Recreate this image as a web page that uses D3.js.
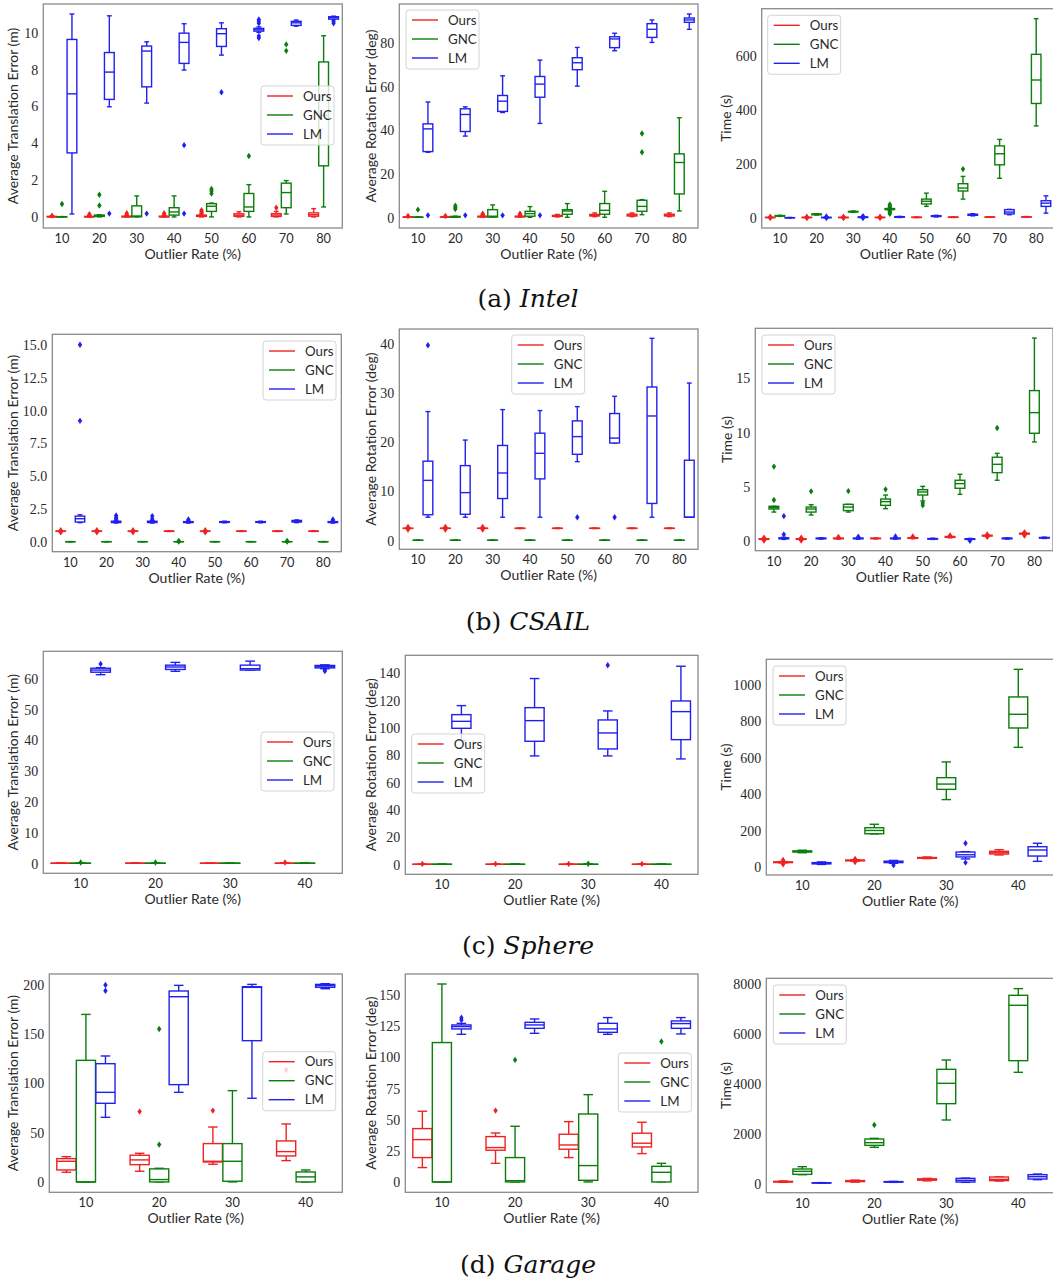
<!DOCTYPE html>
<html>
<head>
<meta charset="utf-8">
<script src="https://cdn.jsdelivr.net/npm/d3@7"></script>
<style>
  body { margin: 0; background: #fff; }
  svg { display: block; }
  .lab { font-family: Lato, "Open Sans", sans-serif; font-size: 13.3px; fill: #2a2a2a; }
  .axlab { font-family: Lato, "Open Sans", sans-serif; font-size: 14px; fill: #2a2a2a; }
  .cap { font-family: "DejaVu Serif", serif; font-size: 25px; fill: #111; }
</style>
</head>
<body>
<script>
const methods = ["Ours", "GNC", "LM"];
const colors = { Ours: "#ee2222", GNC: "#0b7d0b", LM: "#2121ee" };
const ratesLong = [10, 20, 30, 40, 50, 60, 70, 80];
const ratesShort = [10, 20, 30, 40];

// box = [lower whisker, q1, median, q3, upper whisker, [fliers]]
const intelTrans = {
  Ours: [[0,0,0.01,0.03,0.05,[0.07]], [0,0,0.01,0.03,0.06,[0.1,0.15]], [0,0,0.02,0.04,0.07,[0.12,0.2]], [0,0,0.02,0.04,0.07,[0.12,0.2]],
         [0,0.03,0.06,0.1,0.16,[0.22,0.3,0.36]], [0,0.03,0.09,0.17,0.28,[]], [0,0.03,0.1,0.18,0.3,[0.5]], [0,0.04,0.12,0.22,0.45,[]]],
  GNC: [[0,0,0,0.01,0.02,[0.7]], [0,0.03,0.06,0.1,0.12,[0.62,1.2]], [0,0.01,0.05,0.6,1.14,[]], [0,0.1,0.27,0.5,1.14,[]],
        [0,0.3,0.58,0.72,0.75,[1.27,1.4,1.52]], [0,0.3,0.54,1.27,1.75,[3.3]], [0.16,0.5,1.32,1.83,1.97,[9.0,9.35]], [0.54,2.77,5.5,8.4,9.82,[]]],
  LM: [[0.16,3.47,6.67,9.62,11.0,[]], [5.97,6.37,7.85,8.91,10.9,[0.18]], [6.17,7.05,8.99,9.26,9.49,[0.18]], [7.96,8.32,9.46,9.96,10.47,[3.89,0.18]],
       [8.77,9.24,9.93,10.2,10.52,[6.76]], [10.0,10.07,10.14,10.22,10.3,[9.7,9.8,10.5,10.6,10.7]], [10.34,10.38,10.52,10.6,10.67,[]], [10.7,10.72,10.8,10.85,10.88,[10.5,10.6]]]
};
const intelRot = {
  Ours: [[0,0.05,0.1,0.2,0.3,[0.6]], [0,0.05,0.1,0.2,0.3,[0.6]], [0.1,0.2,0.3,0.5,0.7,[1.0,1.3,1.6]], [0.1,0.2,0.3,0.5,0.7,[1.0,1.3,1.6]],
         [0.2,0.4,0.6,0.9,1.3,[]], [0.3,0.6,0.9,1.3,2.0,[]], [0.3,0.6,1.0,1.4,2.0,[]], [0.3,0.6,1.0,1.4,2.0,[]]],
  GNC: [[0,0,0.05,0.1,0.2,[3.5]], [0,0.1,0.2,0.4,0.5,[3.8,4.5,5.3]], [0,0.1,0.5,3.5,5.7,[]], [0,0.5,1.7,2.75,4.9,[]],
        [0,1.4,2.9,3.5,6.3,[]], [0,1.4,3.2,6.3,11.9,[]], [1.2,2.75,5.0,7.8,8.1,[29.8,38.4]], [2.9,10.7,25.1,29.05,45.6,[]]],
  LM: [[29.8,30.1,40.5,42.8,52.8,[0.9]], [37.2,39.3,47.1,49.7,50.6,[0.9]], [48,48.5,53.2,55.8,64.8,[0.9]], [43,55,61,64.5,72,[0.9]],
       [60.1,67.6,70.8,73.1,77.8,[]], [76.3,77.7,81.7,82.7,84.3,[]], [80.1,82.4,86.1,88.7,90.4,[]], [86.1,89.3,90.4,91.3,93.1,[]]]
};
const intelTime = {
  Ours: [[1,1.5,2,2.5,3,[0.2,4.5]], [1,1.5,2,2.5,3,[0.2,4.5]], [1,1.5,2,2.5,3,[0.2,4.5]], [1,1.5,2,2.5,3,[0.2,4.5]],
         [1.5,2,2.5,3,3.5,[]], [2,2.5,3,3.5,4,[]], [2.5,3,3.5,4,4.5,[]], [3,3.5,4,4.5,5.5,[]]],
  GNC: [[6,7,8,9,10,[]], [11,12,13.5,15,16,[]], [21,22.5,23.5,24.5,26,[]], [29,31,33,35,37,[16,20,24,41,45,50]],
        [43,52,62,70,92,[]], [70,100,111,127,154,[181]], [147,197,238,267,291,[]], [341,424,511,606,738,[]]],
  LM: [[0.3,0.6,1,1.4,2,[]], [0.5,1,1.8,2.5,3.5,[0.1,5.5]], [1,2,3,4,5,[0.2,7]], [2,3,4,5,6,[]],
       [4,5.5,7,8.5,10,[]], [8,10,12,14,16,[]], [12,15,22,31,32,[]], [18,43,55,64,82,[]]]
};

const csailTrans = {
  Ours: [[0.78,0.79,0.8,0.81,0.82,[0.72,0.88]], [0.78,0.79,0.8,0.81,0.82,[0.72,0.88]], [0.78,0.79,0.8,0.81,0.82,[0.72,0.88]], [0.78,0.79,0.8,0.81,0.82,[]],
         [0.78,0.79,0.8,0.81,0.82,[0.72,0.88]], [0.78,0.79,0.8,0.81,0.82,[]], [0.78,0.79,0.8,0.81,0.82,[]], [0.78,0.79,0.8,0.81,0.82,[]]],
  GNC: [[0,0,0,0.005,0.01,[]], [0,0,0,0.005,0.01,[]], [0,0,0,0.005,0.01,[]], [0,0,0,0.005,0.01,[0.02,0.06]],
        [0,0,0,0.005,0.01,[]], [0,0,0,0.005,0.01,[]], [0,0,0,0.005,0.01,[0.02,0.06]], [0,0,0,0.005,0.01,[]]],
  LM: [[1.45,1.5,1.75,1.95,2.05,[9.2,15.0]], [1.42,1.46,1.5,1.56,1.62,[1.72,1.85,2.0]], [1.42,1.46,1.5,1.56,1.62,[1.75,1.95]], [1.42,1.46,1.49,1.53,1.56,[1.62,1.7]],
       [1.44,1.47,1.5,1.53,1.56,[]], [1.44,1.47,1.5,1.53,1.56,[]], [1.45,1.5,1.55,1.62,1.66,[]], [1.42,1.46,1.49,1.53,1.56,[1.62,1.7]]]
};
const csailRot = {
  Ours: [[2.4,2.42,2.44,2.46,2.5,[2.2,2.7]], [2.4,2.42,2.44,2.46,2.5,[2.2,2.7]], [2.4,2.42,2.44,2.46,2.5,[2.2,2.7]], [2.4,2.42,2.44,2.46,2.5,[]],
         [2.4,2.42,2.44,2.46,2.5,[]], [2.4,2.42,2.44,2.46,2.5,[]], [2.4,2.42,2.44,2.46,2.5,[]], [2.4,2.42,2.44,2.46,2.5,[]]],
  GNC: [[0,0,0,0.02,0.05,[]], [0,0,0,0.02,0.05,[]], [0,0,0,0.02,0.05,[]], [0,0,0,0.02,0.05,[]],
        [0,0,0,0.02,0.05,[]], [0,0,0,0.02,0.05,[]], [0,0,0,0.02,0.05,[]], [0,0,0,0.02,0.05,[]]],
  LM: [[4.7,5.2,12.2,16.1,26.2,[39.7]], [4.7,5.3,9.7,15.2,20.4,[]], [4.7,8.5,13.7,19.3,26.6,[]], [4.7,12.5,17.7,21.8,26.4,[]],
       [16,17.5,21.1,24.3,27.2,[4.7]], [19.8,19.8,20.8,25.8,29.3,[4.7]], [4.7,7.5,25.3,31.2,41.1,[]], [4.7,4.7,4.7,16.3,32,[]]]
};
const csailTime = {
  Ours: [[0.12,0.15,0.18,0.21,0.24,[0.05,0.3]], [0.12,0.15,0.18,0.21,0.24,[0.05,0.3]], [0.18,0.21,0.24,0.27,0.3,[0.38]], [0.2,0.22,0.24,0.26,0.28,[]],
         [0.22,0.25,0.28,0.31,0.34,[0.42]], [0.3,0.34,0.38,0.42,0.45,[0.52]], [0.42,0.46,0.5,0.53,0.56,[0.38,0.6]], [0.6,0.64,0.68,0.72,0.75,[0.5,0.8]]],
  GNC: [[2.67,2.95,3.07,3.2,3.2,[3.78,6.86]], [2.4,2.67,2.95,3.13,3.35,[4.58]], [2.67,2.8,3.13,3.38,3.38,[4.6]], [2.98,3.29,3.63,3.87,4.24,[4.76]],
        [3.69,4.24,4.52,4.73,5.04,[3.3,3.5]], [4.3,4.86,5.29,5.6,6.15,[]], [5.6,6.3,7.07,7.72,8.08,[10.42]], [9.13,9.93,11.83,13.86,18.7,[]]],
  LM: [[0.15,0.2,0.25,0.3,0.35,[0.61,2.3]], [0.18,0.21,0.24,0.27,0.3,[]], [0.18,0.21,0.24,0.27,0.3,[0.4]], [0.18,0.21,0.24,0.27,0.3,[0.42]],
       [0.15,0.18,0.2,0.23,0.26,[]], [0.12,0.15,0.18,0.21,0.24,[0.02]], [0.18,0.21,0.24,0.27,0.3,[]], [0.24,0.27,0.3,0.33,0.36,[]]]
};

const sphereTrans = {
  Ours: [[0,0,0,0.05,0.1,[]], [0,0,0,0.05,0.1,[]], [0,0,0,0.05,0.1,[]], [0,0,0,0.05,0.1,[0.25]]],
  GNC: [[0,0,0,0.05,0.1,[0.25]], [0,0,0,0.05,0.1,[0.25]], [0,0,0,0.05,0.1,[]], [0,0,0,0.05,0.1,[]]],
  LM: [[61.3,62.1,62.8,63.4,63.6,[64.8]], [62.4,63.0,63.8,64.4,65.3,[]], [62.8,62.8,63.25,64.4,65.7,[]], [63.25,63.5,63.9,64.3,64.5,[62.5,62.9]]]
};
const sphereRot = {
  Ours: [[0,0,0,0.1,0.2,[0.3]], [0,0,0,0.1,0.2,[0.3]], [0,0,0,0.1,0.2,[0.3]], [0,0,0,0.1,0.2,[0.3]]],
  GNC: [[0,0,0,0.1,0.2,[]], [0,0,0,0.1,0.2,[]], [0,0,0,0.1,0.2,[0.4]], [0,0,0,0.1,0.2,[]]],
  LM: [[90.5,99.5,104.6,109.5,116.1,[]], [79.3,90,105.1,114.6,135.9,[]], [79.3,84.4,96.1,105.6,112.2,[145.6]], [77.1,91.2,111.7,119.5,144.9,[]]]
};
const sphereTime = {
  Ours: [[22,24,26,28,30,[15,38]], [32,34,36,38,40,[27,44]], [46,48,50,52,55,[]], [66,71,78,86,95,[]]],
  GNC: [[78,82,85,88,92,[]], [181,182,200,215,234,[]], [369,425,454,489,575,[]], [655,761,836,931,1082,[]]],
  LM: [[14,17,20,24,28,[]], [20,24,28,32,36,[10]], [44,55,67,82,84,[24,130]], [31,60,93,111,130,[]]]
};

const garageTrans = {
  Ours: [[9.8,12.1,20.9,23.6,25.6,[]], [10.8,17.5,22.3,27,29,[71.2]], [17.9,20.2,20.9,38.8,55.6,[72.2]], [21.6,26.3,30.7,41.5,58.7,[113.3]]],
  GNC: [[0,0,0,123.1,169.6,[]], [0,0,2.4,13.2,13.8,[37.8,154.8]], [0,0.7,20.9,38.8,92.4,[]], [0,0,5.1,10.1,12.1,[]]],
  LM: [[65.4,79.6,90.7,119.7,127.5,[193.6,199.3]], [90.7,98.5,187.5,193.3,199,[]], [84.7,143,197,197.6,200,[]], [195.6,197,198.7,200,200.7,[]]]
};
const garageRot = {
  Ours: [[11.5,19.5,33.9,42.7,56.6,[]], [14.9,25.4,27.5,36.3,39.2,[57.1]], [19.5,26.2,29.6,38.2,48.3,[]], [22.7,28,31,39,47.8,[]]],
  GNC: [[0,0,0,111.6,158.5,[]], [0,0,1,19.5,44.6,[97.7]], [0,1.3,13.1,54.4,69.9,[]], [0,0,7.7,12.5,14.9,[112.4]]],
  LM: [[118.2,122.5,124.4,125.7,127,[129.7,131.5]], [119,123,125.7,127.8,130.5,[]], [118.2,119.8,122.5,127,131.6,[]], [118.5,123,126.8,128.9,131.6,[]]]
};
const garageTime = {
  Ours: [[40,55,65,80,95,[]], [50,70,90,110,130,[]], [100,130,150,180,200,[]], [94,110,160,254,260,[]]],
  GNC: [[348,361,482,575,669,[]], [1445,1525,1632,1779,1806,[2341]], [2542,3197,4013,4575,4950,[]], [4455,4923,7144,7545,7813,[]]],
  LM: [[8,12,18,24,30,[]], [40,50,60,70,80,[]], [40,54,120,200,210,[]], [147,174,268,348,375,[]]]
};

const transLabel = "Average Translation Error (m)";
const rotLabel = "Average Rotation Error (deg)";
const timeLabel = "Time (s)";

const captions = [
  { tag: "(a) ", name: "Intel", y: 307 },
  { tag: "(b) ", name: "CSAIL", y: 630 },
  { tag: "(c) ", name: "Sphere", y: 954 },
  { tag: "(d) ", name: "Garage", y: 1273 }
];

// layout of each panel (pixel frame, y extent, legend corner)
const panels = [
  { data: intelTrans, rates: ratesLong, left: 43.3, right: 342.3, top: 4, bottom: 228, domain: [-0.6, 11.54], ticks: [0,2,4,6,8,10], label: transLabel, labelX: 13.3, legend: [261, 86] },
  { data: intelRot, rates: ratesLong, left: 399.3, right: 698, top: 4, bottom: 228, domain: [-4.9, 97.7], ticks: [0,20,40,60,80], label: rotLabel, labelX: 370.7, legend: [406, 10] },
  { data: intelTime, rates: ratesLong, left: 761.7, right: 1054.5, top: 8.7, bottom: 228, domain: [-37, 775], ticks: [0,200,400,600], label: timeLabel, labelX: 726, legend: [767.7, 15.3] },
  { data: csailTrans, rates: ratesLong, left: 52.3, right: 341.3, top: 334.3, bottom: 551.7, domain: [-0.76, 15.79], ticks: [0,2.5,5,7.5,10,12.5,15], fmt: ".1f", label: transLabel, labelX: 13.3, legend: [263, 341] },
  { data: csailRot, rates: ratesLong, left: 399.3, right: 698, top: 329, bottom: 549.3, domain: [-1.83, 43], ticks: [0,10,20,30,40], label: rotLabel, labelX: 370.7, legend: [511.7, 335] },
  { data: csailTime, rates: ratesLong, left: 755.3, right: 1053, top: 328.3, bottom: 550.7, domain: [-0.89, 19.6], ticks: [0,5,10,15], label: timeLabel, labelX: 726.7, legend: [762, 335] },
  { data: sphereTrans, rates: ratesShort, left: 43.3, right: 342.3, top: 651.3, bottom: 873.3, domain: [-3.25, 68.9], ticks: [0,10,20,30,40,50,60], label: transLabel, labelX: 13.3, legend: [261, 732] },
  { data: sphereRot, rates: ratesShort, left: 405.3, right: 698, top: 655.3, bottom: 874.3, domain: [-7.3, 152.9], ticks: [0,20,40,60,80,100,120,140], label: rotLabel, labelX: 370.7, legend: [411.7, 734] },
  { data: sphereTime, rates: ratesShort, left: 766.3, right: 1054.3, top: 659.3, bottom: 875, domain: [-43.8, 1137], ticks: [0,200,400,600,800,1000], label: timeLabel, labelX: 726, legend: [773, 666] },
  { data: garageTrans, rates: ratesShort, left: 49.3, right: 342.3, top: 974, bottom: 1192.3, domain: [-10.5, 210.5], ticks: [0,50,100,150,200], label: transLabel, labelX: 13.3, legend: [262.7, 1051.7] },
  { data: garageRot, rates: ratesShort, left: 405.3, right: 698, top: 974, bottom: 1192.3, domain: [-8.3, 166.5], ticks: [0,25,50,75,100,125,150], label: rotLabel, labelX: 370.7, legend: [618.3, 1053] },
  { data: garageTime, rates: ratesShort, left: 766.3, right: 1054.3, top: 978.3, bottom: 1192.7, domain: [-375, 8227], ticks: [0,2000,4000,6000,8000], label: timeLabel, labelX: 726, legend: [773.3, 985] }
];

const svg = d3.select("body").append("svg")
  .attr("width", 1053)
  .attr("height", 1284);

const diamond = "M0,-3.2L2.2,0L0,3.2L-2.2,0Z";

const drawPanel = function (p) {
  const g = svg.append("g");
  const x = d3.scaleBand().domain(p.rates).range([p.left, p.right]);
  const hue = d3.scaleBand().domain(methods).range([x.bandwidth() * 0.1, x.bandwidth() * 0.9]);
  const bw = hue.bandwidth() * 0.98;
  const y = d3.scaleLinear().domain(p.domain).range([p.bottom, p.top]);

  // axes, seaborn white style: no tick marks
  const ya = g.append("g")
    .attr("transform", `translate(${p.left},0)`)
    .call(d3.axisLeft(y).tickValues(p.ticks).tickSize(0).tickPadding(5).tickFormat(d3.format(p.fmt || "d")));
  ya.select(".domain").remove();
  ya.selectAll("text")
    .attr("dy", "0.34em")
    .style("font-family", '"Liberation Serif", "DejaVu Serif", serif')
    .style("font-size", "14px")
    .style("fill", "#2a2a2a");

  const xa = g.append("g")
    .attr("transform", `translate(0,${p.bottom})`)
    .call(d3.axisBottom(x).tickSize(0).tickPadding(6));
  xa.select(".domain").remove();
  xa.selectAll("text")
    .style("font-family", 'Lato, "Open Sans", sans-serif')
    .style("font-size", "12.8px")
    .style("fill", "#2a2a2a");

  const items = p.rates.flatMap((r, i) => methods.map(m => ({ r, m, b: p.data[m][i] })));

  const boxes = g.selectAll("g.box")
    .data(items)
    .join("g")
    .attr("class", "box")
    .attr("transform", d => `translate(${x(d.r) + hue(d.m) + hue.bandwidth() / 2},0)`)
    .attr("stroke", d => colors[d.m])
    .attr("stroke-width", 1.4)
    .attr("fill", "none");

  // whiskers and caps
  boxes.append("line").attr("y1", d => y(d.b[0])).attr("y2", d => y(d.b[1]));
  boxes.append("line").attr("y1", d => y(d.b[3])).attr("y2", d => y(d.b[4]));
  boxes.append("line").attr("x1", -bw / 4).attr("x2", bw / 4).attr("y1", d => y(d.b[0])).attr("y2", d => y(d.b[0]));
  boxes.append("line").attr("x1", -bw / 4).attr("x2", bw / 4).attr("y1", d => y(d.b[4])).attr("y2", d => y(d.b[4]));

  boxes.append("rect")
    .attr("x", -bw / 2)
    .attr("width", bw)
    .attr("y", d => y(d.b[3]))
    .attr("height", d => Math.max(0, y(d.b[1]) - y(d.b[3])))
    .attr("fill", "white");

  boxes.append("line")
    .attr("x1", -bw / 2).attr("x2", bw / 2)
    .attr("y1", d => y(d.b[2])).attr("y2", d => y(d.b[2]));

  boxes.selectAll("path.flier")
    .data(d => d.b[5].map(v => ({ v, m: d.m })))
    .join("path")
    .attr("class", "flier")
    .attr("d", diamond)
    .attr("transform", d => `translate(0,${y(d.v)})`)
    .attr("fill", d => colors[d.m])
    .attr("stroke", "none");

  // legend
  const lg = g.append("g").attr("transform", `translate(${p.legend[0]},${p.legend[1]})`);
  lg.append("rect")
    .attr("width", 73).attr("height", 59).attr("rx", 3)
    .attr("fill", "white").attr("fill-opacity", 0.8)
    .attr("stroke", "#d4d4d4").attr("stroke-width", 1);
  methods.forEach((m, i) => {
    lg.append("line")
      .attr("x1", 6).attr("x2", 32)
      .attr("y1", 10 + 19 * i).attr("y2", 10 + 19 * i)
      .attr("stroke", colors[m]).attr("stroke-width", 1.4);
    lg.append("text").attr("class", "lab")
      .attr("x", 42).attr("y", 10 + 19 * i).attr("dy", "0.36em")
      .text(m);
  });

  // frame
  g.append("rect")
    .attr("x", p.left).attr("y", p.top)
    .attr("width", p.right - p.left).attr("height", p.bottom - p.top)
    .attr("fill", "none").attr("stroke", "#8a8a8a").attr("stroke-width", 1.3);

  g.append("text").attr("class", "axlab")
    .attr("x", (p.left + p.right) / 2).attr("y", p.bottom + 31)
    .attr("text-anchor", "middle")
    .text("Outlier Rate (%)");

  g.append("text").attr("class", "axlab")
    .attr("transform", `translate(${p.labelX},${(p.top + p.bottom) / 2}) rotate(-90)`)
    .attr("dy", "0.36em")
    .attr("text-anchor", "middle")
    .text(p.label);
};

panels.forEach(drawPanel);

captions.forEach(c => {
  const t = svg.append("text").attr("class", "cap")
    .attr("x", 528).attr("y", c.y).attr("text-anchor", "middle");
  t.append("tspan").text(c.tag);
  t.append("tspan").attr("font-style", "italic").text(c.name);
});
</script>
</body>
</html>
